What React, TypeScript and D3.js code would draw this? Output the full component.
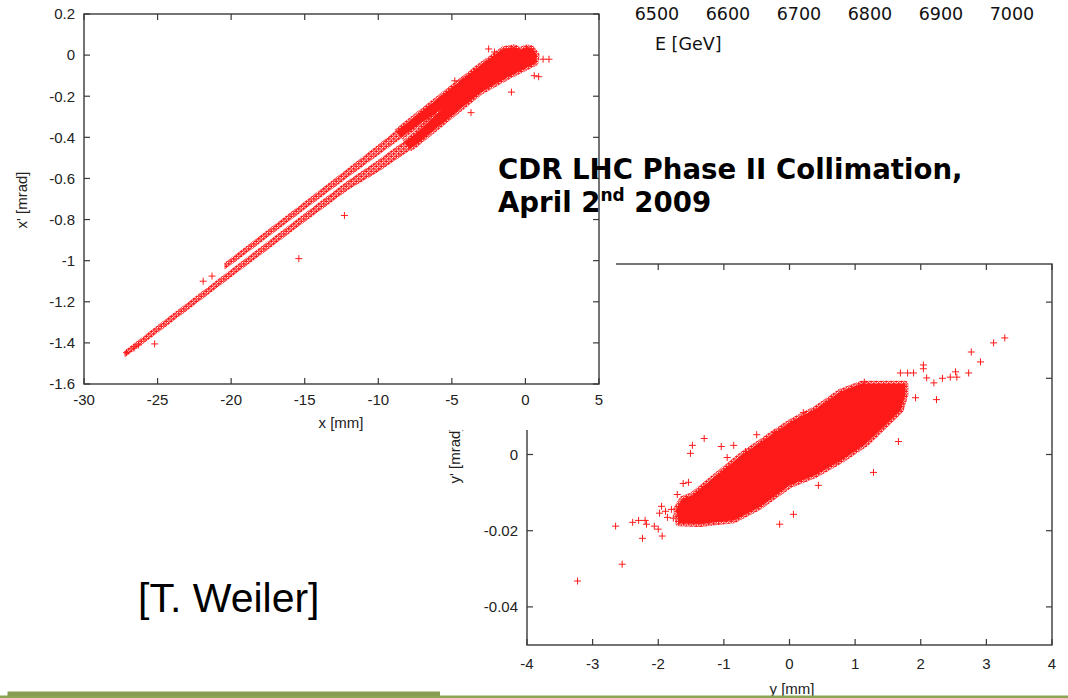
import React from "react";
import * as d3 from "d3";

// ---- top-right: energy axis of an earlier figure ----
const energyTicks = [6500, 6600, 6700, 6800, 6900, 7000];

// ---- top-left panel: horizontal phase space x [mm] vs x' [mrad] ----
const tlXTicks = [-30, -25, -20, -15, -10, -5, 0, 5];
const tlYTicks = [0.2, 0, -0.2, -0.4, -0.6, -0.8, -1, -1.2, -1.4, -1.6];
const tlYLabels = ["0.2", "0", "-0.2", "-0.4", "-0.6", "-0.8", "-1", "-1.2", "-1.4", "-1.6"];

// upper particle band: upper edge left→right, then lower edge right→left
const upperBand: [number, number][] = [
  [-20.4, -1.014], [-18, -0.883], [-15, -0.719], [-12, -0.553], [-10, -0.441],
  [-7.5, -0.299], [-5, -0.157], [-3, -0.046], [-1.5, 0.031], [-0.8, 0.04], [-0.55, 0.035],
  [-0.4, 0.01], [-1.5, -0.035], [-3, -0.122], [-5, -0.228], [-7.5, -0.351],
  [-10, -0.481], [-12, -0.585], [-15, -0.745], [-18, -0.907], [-20.4, -1.036],
];

// lower particle band: upper edge left→right, then lower edge right→left
const lowerBand: [number, number][] = [
  [-27.2, -1.442], [-25, -1.321], [-20, -1.048], [-15, -0.776], [-12, -0.613], [-10, -0.515],
  [-7.5, -0.385], [-5.2, -0.232], [-3, -0.11], [-1, 0.008], [0.1, 0.04], [0.45, 0.035],
  [0.8, 0.0], [0.7, -0.04], [-1, -0.1], [-3, -0.18], [-5, -0.295], [-7.5, -0.44],
  [-10, -0.562], [-12, -0.648], [-15, -0.806], [-20, -1.074], [-25, -1.345], [-27.2, -1.462],
];

// isolated particles
const tlPoints: [number, number][] = [
  [-27.1, -1.447], [-26.6, -1.425], [-26.3, -1.41], [-25.2, -1.405], [-21.9, -1.1],
  [-21.3, -1.075], [-15.4, -0.99], [-12.3, -0.78],
  [-2.5, 0.03], [-2.1, 0.015], [-1.7, 0.01], [1.2, -0.02], [1.6, -0.02], [0.6, -0.1],
  [0.9, -0.105], [-0.95, -0.18], [-3.7, -0.28], [-4.8, -0.125], [-4.3, -0.125], [-3.45, -0.08],
];

// point on the band axis beyond which the bands are saturated
const tlDenseFrom: [number, number] = [-8.5, -0.4];

// ---- bottom-right panel: vertical phase space y [mm] vs y' [mrad] ----
const brXTicks = [-4, -3, -2, -1, 0, 1, 2, 3, 4];
const brYTicks = [-0.04, -0.02, 0, 0.02, 0.04];
const brYLabels = ["-0.04", "-0.02", "0", "0.02", "0.04"];

// dense beam core (outline)
const brCore: [number, number][] = [
  [1.1, 0.0183], [1.75, 0.0183], [1.75, 0.0157], [1.68, 0.0118], [1.48, 0.0084],
  [1.16, 0.0031], [0.78, -0.0013], [0.38, -0.0052], [0.0, -0.0078],
  [-0.47, -0.0136], [-0.85, -0.017], [-1.37, -0.018], [-1.68, -0.0178], [-1.71, -0.0144],
  [-1.62, -0.0118], [-1.48, -0.011], [-1.11, -0.0058], [-0.73, -0.0005], [-0.29, 0.0047],
  [0.03, 0.0084], [0.41, 0.0118], [0.78, 0.0162],
];

// halo particles
const brPoints: [number, number][] = [
  [3.28, 0.0306], [3.11, 0.0293], [2.77, 0.0269], [2.91, 0.0243], [2.53, 0.0217], [2.73, 0.0214],
  [2.04, 0.0235], [2.04, 0.0225], [1.69, 0.0214], [1.8, 0.0214], [1.89, 0.0214], [2.09, 0.0201],
  [2.2, 0.0188], [2.33, 0.02], [2.45, 0.0203], [2.55, 0.0203], [2.24, 0.0144], [1.92, 0.0149],
  [1.66, 0.0034], [1.28, -0.0047], [0.44, -0.0081], [0.72, -0.0018], [0.59, -0.0018],
  [0.91, 0.0018], [-1.48, 0.0024], [-1.3, 0.0042], [-1.51, 0.0003], [-1.04, 0.0021],
  [-0.85, 0.0024], [-0.5, 0.0052], [-1.71, -0.0105], [-1.54, -0.0073], [-0.95, -0.0008],
  [-0.67, 0.0008], [0.21, 0.011], [-0.23, 0.0058], [1.14, 0.019], [1.69, 0.0125], [1.48, 0.011],
  [-3.23, -0.0332], [-2.55, -0.0288], [-2.65, -0.0188], [-2.24, -0.022], [-1.94, -0.0214],
  [-2.39, -0.0178], [-2.3, -0.0173], [-2.2, -0.0173], [-2.18, -0.0183], [-2.06, -0.0188],
  [-2.0, -0.0196], [-1.98, -0.0154], [-1.89, -0.0149], [-1.86, -0.0165], [-1.77, -0.0167],
  [-1.62, -0.0076], [-1.95, -0.0136], [-1.8, -0.0144], [-0.15, -0.0183], [0.06, -0.0157],
  [-0.88, -0.0165], [-0.79, -0.0149], [-0.47, -0.0112], [-0.29, -0.011],
];

const RED = "#ff1a1a";
const AXIS = "#3a3a3a";
const TICK_FONT = "'Liberation Sans', Arial, sans-serif";

const plusPath = (cx: number, cy: number, r: number) =>
  `M${cx - r},${cy}H${cx + r}M${cx},${cy - r}V${cy + r}`;

// tiled "+" markers used to texture densely populated regions
function PlusTexture({ id }: { id: string }) {
  const T = 5;
  const centers = [
    [1.25, 1.25],
    [3.75, 3.75],
  ];
  const d: string[] = [];
  centers.forEach(([cx, cy]) => {
    for (const dx of [-T, 0, T]) for (const dy of [-T, 0, T]) d.push(plusPath(cx + dx, cy + dy, 2));
  });
  return (
    <pattern id={id} width={T} height={T} patternUnits="userSpaceOnUse">
      <path d={d.join("")} stroke={RED} strokeWidth={1.25} fill="none" />
    </pattern>
  );
}

interface FrameProps {
  x: d3.ScaleLinear<number, number>;
  y: d3.ScaleLinear<number, number>;
  xTicks: number[];
  yTicks: number[];
  yLabels: string[];
  xLabelY: number;
  yLabelX: number;
}

function Frame({ x, y, xTicks, yTicks, yLabels, xLabelY, yLabelX }: FrameProps) {
  const [x0, x1] = x.range();
  const [y0, y1] = y.range(); // y0 bottom, y1 top
  const tl = 6;
  return (
    <g>
      <rect x={x0} y={y1} width={x1 - x0} height={y0 - y1} fill="none" stroke={AXIS} strokeWidth={1.4} />
      {xTicks.map((t) => (
        <g key={"x" + t}>
          <line x1={x(t)} x2={x(t)} y1={y0} y2={y0 - tl} stroke={AXIS} strokeWidth={1.2} />
          <line x1={x(t)} x2={x(t)} y1={y1} y2={y1 + tl} stroke={AXIS} strokeWidth={1.2} />
          <text x={x(t)} y={xLabelY} textAnchor="middle" fontFamily={TICK_FONT} fontSize={15} fill="#222">
            {String(t)}
          </text>
        </g>
      ))}
      {yTicks.map((t, i) => (
        <g key={"y" + t}>
          <line x1={x0} x2={x0 + tl} y1={y(t)} y2={y(t)} stroke={AXIS} strokeWidth={1.2} />
          <line x1={x1} x2={x1 - tl} y1={y(t)} y2={y(t)} stroke={AXIS} strokeWidth={1.2} />
          <text x={yLabelX} y={y(t) + 5.3} textAnchor="end" fontFamily={TICK_FONT} fontSize={15} fill="#222">
            {yLabels[i]}
          </text>
        </g>
      ))}
    </g>
  );
}

export default function App() {
  const W = 1068;
  const H = 698;

  const xE = d3.scaleLinear().domain([6500, 7000]).range([657, 1012]);

  const xTL = d3.scaleLinear().domain([-30, 5]).range([84, 599]);
  const yTL = d3.scaleLinear().domain([-1.6, 0.2]).range([384, 14]);
  const lineTL = d3.line<[number, number]>().x((d) => xTL(d[0])).y((d) => yTL(d[1])).curve(d3.curveLinearClosed);

  const xBR = d3.scaleLinear().domain([-4, 4]).range([527, 1052]);
  const yBR = d3.scaleLinear().domain([-0.05, 0.05]).range([645, 264]);
  const lineBR = d3.line<[number, number]>().x((d) => xBR(d[0])).y((d) => yBR(d[1])).curve(d3.curveLinearClosed);

  // cut across the bands, perpendicular to their direction in screen space
  const dirX = xTL(0) - xTL(-10);
  const dirY = yTL(0.543) - yTL(0);
  const px = xTL(tlDenseFrom[0]);
  const py = yTL(tlDenseFrom[1]);
  const nx = -dirY;
  const ny = dirX;
  const tTop = (14 - py) / ny;
  const tBot = (384 - py) / ny;
  const cutTop = [px + nx * tTop, 14];
  const cutBot = [px + nx * tBot, 384];
  const densePoly = `${cutTop[0]},${cutTop[1]} 599,14 599,384 ${cutBot[0]},${cutBot[1]}`;
  const sparsePoly = `84,14 ${cutTop[0]},${cutTop[1]} ${cutBot[0]},${cutBot[1]} 84,384`;

  return (
    <svg
      width={W}
      height={H}
      viewBox={`0 0 ${W} ${H}`}
      style={{ position: "absolute", left: 0, top: 0, background: "#fff" }}
    >
      <defs>
        <PlusTexture id="plusTex" />
        <clipPath id="brClip">
          <rect x={527} y={264} width={525} height={381} />
        </clipPath>
        <clipPath id="tlSparse">
          <polygon points={sparsePoly} />
        </clipPath>
        <clipPath id="tlDense">
          <polygon points={densePoly} />
        </clipPath>
        <clipPath id="tlClip">
          <rect x={84} y={14} width={515} height={370} />
        </clipPath>
      </defs>
      <rect x={0} y={0} width={W} height={H} fill="#fff" />

      {/* energy axis remnant */}
      <g fontFamily="'DejaVu Sans', Verdana, sans-serif" fontSize={17.5} fill="#111">
        {energyTicks.map((e) => (
          <text key={e} x={xE(e)} y={20} textAnchor="middle">
            {String(e)}
          </text>
        ))}
        <text x={655} y={50}>E [GeV]</text>
      </g>

      {/* bottom-right panel */}
      <g>
        <g clipPath="url(#brClip)">
          <path d={lineBR(brCore) || ""} fill="none" stroke="url(#plusTex)" strokeWidth={8} strokeLinejoin="round" />
          <path d={lineBR(brCore) || ""} fill={RED} stroke={RED} strokeWidth={2} strokeLinejoin="round" />
          <path
            d={brPoints.map(([a, b]) => plusPath(xBR(a), yBR(b), 3.5)).join("")}
            stroke={RED}
            strokeWidth={1}
            fill="none"
          />
        </g>
        <Frame x={xBR} y={yBR} xTicks={brXTicks} yTicks={brYTicks} yLabels={brYLabels} xLabelY={669} yLabelX={518} />
        <text x={792} y={694} textAnchor="middle" fontFamily={TICK_FONT} fontSize={15} fill="#222">
          y [mm]
        </text>
        <text
          transform="translate(460,455) rotate(-90)"
          textAnchor="middle"
          fontFamily={TICK_FONT}
          fontSize={15}
          fill="#222"
        >
          y' [mrad]
        </text>
      </g>

      {/* top-left panel sits on its own white sheet */}
      <rect x={0} y={0} width={616} height={430} fill="#fff" />
      <g>
        <g clipPath="url(#tlSparse)">
          <path d={lineTL(upperBand) || ""} fill="url(#plusTex)" stroke="url(#plusTex)" strokeWidth={2} strokeLinejoin="round" />
          <path d={lineTL(lowerBand) || ""} fill="url(#plusTex)" stroke="url(#plusTex)" strokeWidth={2} strokeLinejoin="round" />
        </g>
        <g clipPath="url(#tlDense)">
          <path d={lineTL(upperBand) || ""} fill="none" stroke="url(#plusTex)" strokeWidth={5} strokeLinejoin="round" />
          <path d={lineTL(lowerBand) || ""} fill="none" stroke="url(#plusTex)" strokeWidth={5} strokeLinejoin="round" />
          <path d={lineTL(upperBand) || ""} fill={RED} />
          <path d={lineTL(lowerBand) || ""} fill={RED} />
        </g>
        <g clipPath="url(#tlClip)">
          <path
            d={tlPoints.map(([a, b]) => plusPath(xTL(a), yTL(b), 3.5)).join("")}
            stroke={RED}
            strokeWidth={1}
            fill="none"
          />
        </g>
        <Frame x={xTL} y={yTL} xTicks={tlXTicks} yTicks={tlYTicks} yLabels={tlYLabels} xLabelY={405} yLabelX={75} />
        <text x={341} y={428} textAnchor="middle" fontFamily={TICK_FONT} fontSize={15} fill="#222">
          x [mm]
        </text>
        <text
          transform="translate(27,200) rotate(-90)"
          textAnchor="middle"
          fontFamily={TICK_FONT}
          fontSize={15}
          fill="#222"
        >
          x' [mrad]
        </text>
      </g>

      {/* title */}
      <g fontFamily="'DejaVu Sans', Verdana, sans-serif" fontWeight="bold" fill="#000">
        <text x={498} y={179} fontSize={27.6}>
          CDR LHC Phase II Collimation,
        </text>
        <text x={498} y={212} fontSize={27.6}>
          April 2
          <tspan fontSize={17} dy={-11}>
            nd
          </tspan>
          <tspan dy={11}> 2009</tspan>
        </text>
      </g>

      <text x={138} y={612} fontFamily="'Liberation Sans', Arial, sans-serif" fontSize={41} fill="#000">
        [T. Weiler]
      </text>

      {/* footer rule */}
      <rect x={0} y={695.5} width={W} height={2.5} fill="#8aa653" />
      <rect x={7.5} y={691.5} width={432.5} height={4.5} fill="#869d52" />
    </svg>
  );
}
